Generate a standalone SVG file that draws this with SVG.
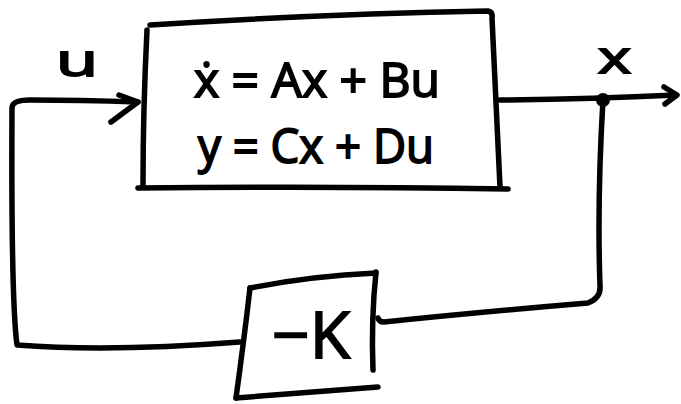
<svg xmlns="http://www.w3.org/2000/svg" width="681" height="404" viewBox="0 0 681 404">
<style>
.s{fill:none;stroke:#000;stroke-width:5.5;stroke-linecap:round;stroke-linejoin:round}
.t{font-family:"Open Sans","DejaVu Sans",sans-serif;fill:#000;stroke:#000;stroke-width:1.8}
</style>
<rect width="681" height="404" fill="#fff"/>
<g id="plant">
<path class="s" d="M147 30 Q143 110 143 185"/>
<path class="s" d="M150 25 Q320 14 488 11 Q493 12 492 18 Q496 100 500 187"/>
<path class="s" d="M138 188 Q330 186 508 189"/>
<text class="t" x="194" y="97" font-size="48" textLength="246" lengthAdjust="spacingAndGlyphs">ẋ = Ax + Bu</text>
<text class="t" x="198" y="163" font-size="48" textLength="236" lengthAdjust="spacingAndGlyphs">y = Cx + Du</text>
</g>
<g id="gain">
<path class="s" d="M250 288 Q244 340 236 398"/>
<path class="s" d="M250 288 Q310 276 376 273"/>
<path class="s" d="M376 272 Q371 320 373 370"/>
<path class="s" d="M236 398 Q310 392 378 387"/>
<text class="t" x="272" y="358" font-size="64" textLength="78" lengthAdjust="spacingAndGlyphs">−K</text>
</g>
<g id="connectors">
<path class="s" d="M378 318 Q379 322 384 322 Q480 312 588 303 Q601 298 600 286 Q597 200 603 100"/>
<path class="s" d="M500 100 Q590 99 676 95"/>
<path class="s" d="M664 87 L677 95 L665 104"/>
<circle cx="603" cy="100" r="7" fill="#000"/>
<path class="s" d="M240 342 Q110 352 17 345 Q11 300 12 108 Q12 100 30 100 Q80 100 138 102"/>
<path class="s" d="M119 95 L138 102 L111 122"/>
<text class="t" x="56" y="76" font-size="44" textLength="42" lengthAdjust="spacingAndGlyphs">u</text>
<text class="t" x="598" y="73" font-size="44" textLength="33" lengthAdjust="spacingAndGlyphs">x</text>
</g>
</svg>
